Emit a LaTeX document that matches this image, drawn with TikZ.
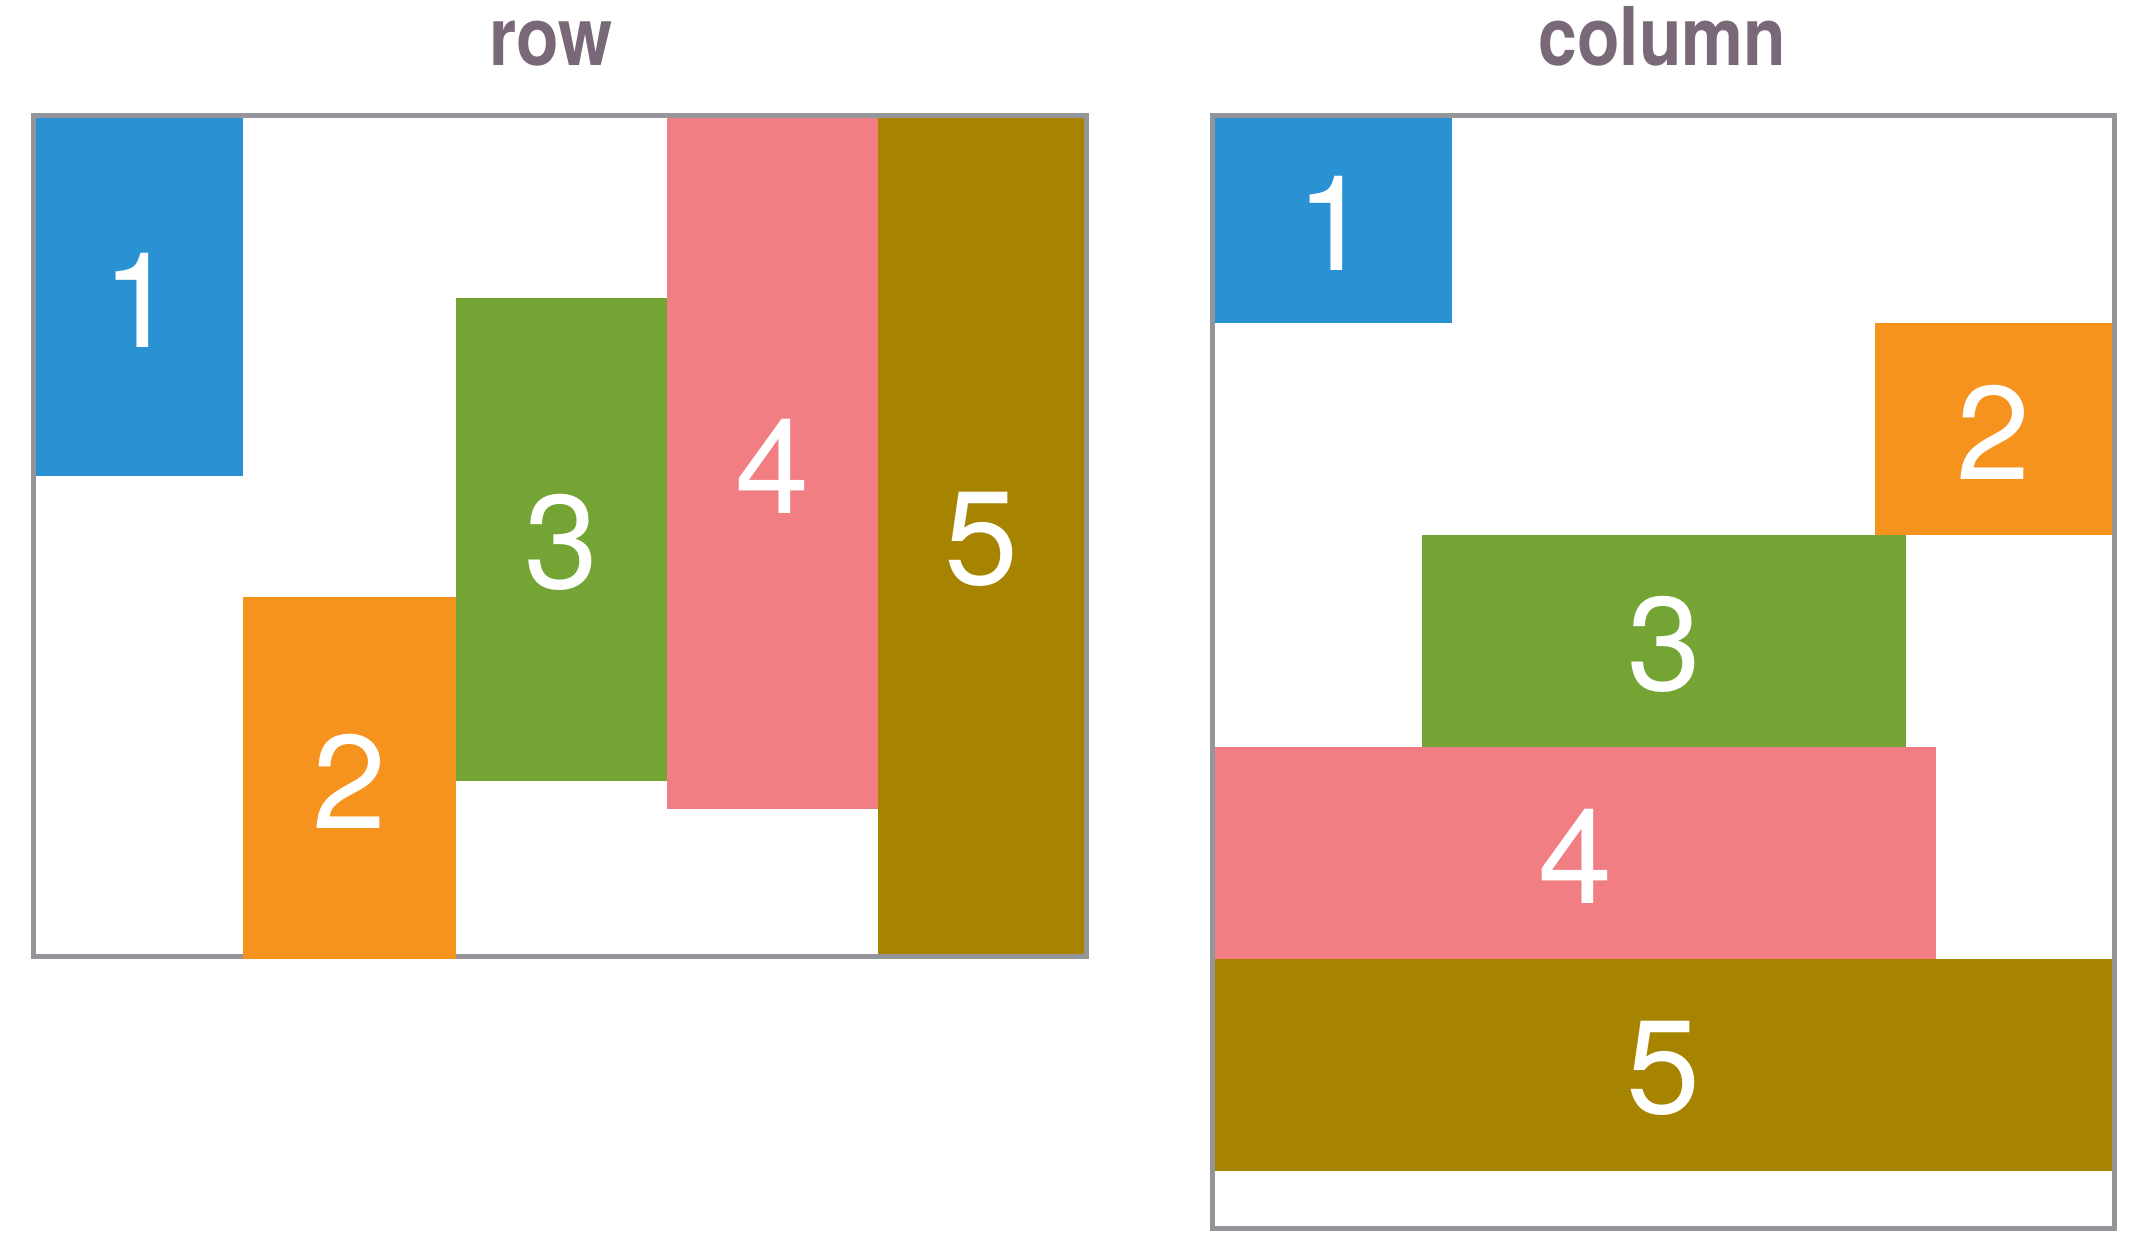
\documentclass[tikz,border=0pt]{standalone}
\usepackage{fontspec}
\usepackage{graphicx}
\setmainfont{TeX Gyre Heros}
\definecolor{fblue}{HTML}{2A92D3}
\definecolor{forange}{HTML}{F6931F}
\definecolor{fgreen}{HTML}{74A534}
\definecolor{fpink}{HTML}{F07E82}
\definecolor{folive}{HTML}{A68400}
\definecolor{fframe}{HTML}{939598}
\definecolor{ftitle}{HTML}{786878}
\begin{document}
\begin{tikzpicture}[x=0.5pt,y=-0.5pt,
  frame/.style={draw=fframe,line width=2.5pt},
  digit/.style={inner sep=0pt,text=white,yshift=-1.5pt,font=\fontsize{66.5pt}{66.5pt}\selectfont},
  title/.style={inner sep=0pt,anchor=base,text=ftitle,font=\fontsize{40.5pt}{40.5pt}\selectfont\bfseries}]
\useasboundingbox (0,0) rectangle (2140,1250);
\fill[white] (0,0) rectangle (2140,1250);
% titles
\node[title] (trow) at (551,65) {\scalebox{0.86}[1]{row}};
\node[title] (tcol) at (1662.5,65) {\scalebox{0.86}[1]{column}};
% frames
\draw[frame] (33.5,115.5) rectangle (1086.5,956.5);
\draw[frame] (1212.5,115.5) rectangle (2114.5,1228.5);
% row boxes
\fill[fblue] (36,118) rectangle (243,476);
\fill[forange] (243,597) rectangle (456,959);
\fill[fgreen] (456,298) rectangle (666.5,781);
\fill[fpink] (666.5,118) rectangle (878,809);
\fill[folive] (878,118) rectangle (1084,954);
\node[digit] (r1) at (139.5,297) {1};
\node[digit] (r2) at (349.5,778) {2};
\node[digit] (r3) at (561.25,539.5) {3};
\node[digit] (r4) at (772,463.5) {4};
\node[digit] (r5) at (981,536) {5};
% column boxes
\fill[fblue] (1215,118) rectangle (1451.5,323);
\fill[forange] (1875,323) rectangle (2112,535);
\fill[fgreen] (1422,535) rectangle (1906,747);
\fill[fpink] (1215,747) rectangle (1936,959);
\fill[folive] (1215,959) rectangle (2112,1171);
\node[digit] (c1) at (1333.25,220.5) {1};
\node[digit] (c2) at (1993.5,429) {2};
\node[digit] (c3) at (1664,641) {3};
\node[digit] (c4) at (1575.5,853) {4};
\node[digit] (c5) at (1663.5,1065) {5};
\end{tikzpicture}
\end{document}
